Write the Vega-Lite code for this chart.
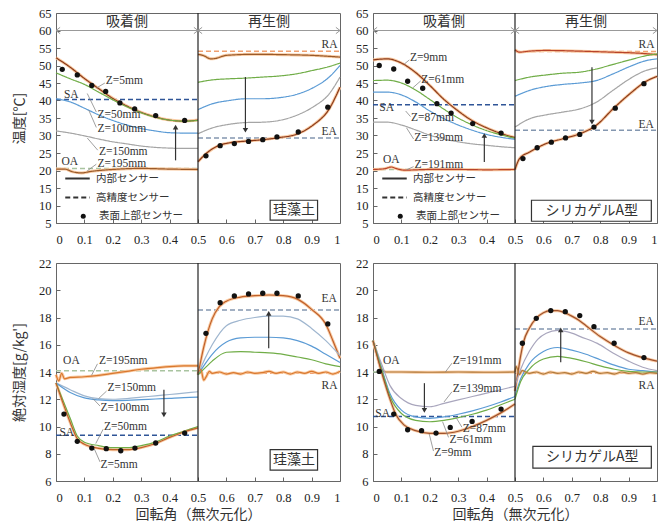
{
"$schema":"https://vega.github.io/schema/vega-lite/v6.json",
"padding":{"left":12,"top":6,"right":4,"bottom":4},
"background":"white",
"config":{"view":{"stroke":"#666","strokeWidth":1},"axis":{"labelFont":"Liberation Serif","labelFontSize":12.5,"labelColor":"#222","titleFont":"Noto Sans CJK JP","titleFontWeight":"normal","titleColor":"#333","titleFontSize":14,"grid":false,"domain":false,"tickColor":"#666","tickSize":-4},"axisX":{"labelPadding":14},"axisY":{"labelPadding":9}},
"resolve":{"scale":{"color":"independent","stroke":"independent","shape":"independent","strokeDash":"independent"},"legend":{"shape":"independent","strokeDash":"independent"}},
"columns":2,
"spacing":{"row":40,"column":33},
"bounds":"flush",
"datasets":{
"hd":[{"x":0,"x2":0.5,"y":60},{"x":0.5,"x2":1,"y":60}],
"ch":[{"x":0,"y":60,"d":"l"},{"x":0.5,"y":60,"d":"r"},{"x":0.5,"y":60,"d":"l"},{"x":1,"y":60,"d":"r"}],
"tl_l":[
{"s":"Z=5mm","h":"a","x":0,"y":52.2},{"s":"Z=5mm","h":"a","x":0.05,"y":49.5},{"s":"Z=5mm","h":"a","x":0.1,"y":46.3},{"s":"Z=5mm","h":"a","x":0.15,"y":43.4},{"s":"Z=5mm","h":"a","x":0.2,"y":40.6},{"s":"Z=5mm","h":"a","x":0.25,"y":38.4},{"s":"Z=5mm","h":"a","x":0.3,"y":36.6},{"s":"Z=5mm","h":"a","x":0.35,"y":35.3},{"s":"Z=5mm","h":"a","x":0.4,"y":34.4},{"s":"Z=5mm","h":"a","x":0.45,"y":34.1},{"s":"Z=5mm","h":"a","x":0.5,"y":34.4},
{"s":"Z=50mm","h":"a","x":0,"y":47.9},{"s":"Z=50mm","h":"a","x":0.05,"y":46.2},{"s":"Z=50mm","h":"a","x":0.1,"y":44.6},{"s":"Z=50mm","h":"a","x":0.15,"y":42.4},{"s":"Z=50mm","h":"a","x":0.2,"y":40.2},{"s":"Z=50mm","h":"a","x":0.25,"y":38.2},{"s":"Z=50mm","h":"a","x":0.3,"y":36.5},{"s":"Z=50mm","h":"a","x":0.35,"y":35.2},{"s":"Z=50mm","h":"a","x":0.4,"y":34.4},{"s":"Z=50mm","h":"a","x":0.45,"y":34.1},{"s":"Z=50mm","h":"a","x":0.5,"y":34.3},
{"s":"Z=100mm","h":"a","x":0,"y":40.5},{"s":"Z=100mm","h":"a","x":0.05,"y":39.6},{"s":"Z=100mm","h":"a","x":0.1,"y":37.8},{"s":"Z=100mm","h":"a","x":0.15,"y":35.9},{"s":"Z=100mm","h":"a","x":0.2,"y":34.3},{"s":"Z=100mm","h":"a","x":0.25,"y":33.0},{"s":"Z=100mm","h":"a","x":0.3,"y":32.0},{"s":"Z=100mm","h":"a","x":0.35,"y":31.3},{"s":"Z=100mm","h":"a","x":0.4,"y":30.8},{"s":"Z=100mm","h":"a","x":0.45,"y":30.7},{"s":"Z=100mm","h":"a","x":0.5,"y":30.7},
{"s":"Z=150mm","h":"a","x":0,"y":31.3},{"s":"Z=150mm","h":"a","x":0.05,"y":30.7},{"s":"Z=150mm","h":"a","x":0.1,"y":29.9},{"s":"Z=150mm","h":"a","x":0.15,"y":29.0},{"s":"Z=150mm","h":"a","x":0.2,"y":28.2},{"s":"Z=150mm","h":"a","x":0.25,"y":27.6},{"s":"Z=150mm","h":"a","x":0.3,"y":27.0},{"s":"Z=150mm","h":"a","x":0.35,"y":26.6},{"s":"Z=150mm","h":"a","x":0.4,"y":26.4},{"s":"Z=150mm","h":"a","x":0.45,"y":26.3},{"s":"Z=150mm","h":"a","x":0.5,"y":26.3},
{"s":"Z=195mm","h":"a","x":0,"y":20.4},{"s":"Z=195mm","h":"a","x":0.03,"y":20.4},{"s":"Z=195mm","h":"a","x":0.06,"y":19.6},{"s":"Z=195mm","h":"a","x":0.09,"y":19.3},{"s":"Z=195mm","h":"a","x":0.12,"y":19.7},{"s":"Z=195mm","h":"a","x":0.2,"y":20.3},{"s":"Z=195mm","h":"a","x":0.3,"y":20.6},{"s":"Z=195mm","h":"a","x":0.4,"y":20.4},{"s":"Z=195mm","h":"a","x":0.5,"y":20.3},
{"s":"Z=195mm","h":"r","x":0.5,"y":53.2},{"s":"Z=195mm","h":"r","x":0.52,"y":52.8},{"s":"Z=195mm","h":"r","x":0.545,"y":51.9},{"s":"Z=195mm","h":"r","x":0.56,"y":52.0},{"s":"Z=195mm","h":"r","x":0.6,"y":52.9},{"s":"Z=195mm","h":"r","x":0.7,"y":53.2},{"s":"Z=195mm","h":"r","x":0.8,"y":53.1},{"s":"Z=195mm","h":"r","x":0.9,"y":52.9},{"s":"Z=195mm","h":"r","x":1,"y":52.4},
{"s":"Z=50mm","h":"r","x":0.5,"y":45.2},{"s":"Z=50mm","h":"r","x":0.552,"y":45.9},{"s":"Z=50mm","h":"r","x":0.61,"y":46.2},{"s":"Z=50mm","h":"r","x":0.669,"y":46.4},{"s":"Z=50mm","h":"r","x":0.728,"y":46.7},{"s":"Z=50mm","h":"r","x":0.786,"y":47.0},{"s":"Z=50mm","h":"r","x":0.845,"y":47.6},{"s":"Z=50mm","h":"r","x":0.904,"y":48.6},{"s":"Z=50mm","h":"r","x":0.962,"y":49.7},{"s":"Z=50mm","h":"r","x":1,"y":50.7},
{"s":"Z=100mm","h":"r","x":0.5,"y":37.4},{"s":"Z=100mm","h":"r","x":0.552,"y":39.1},{"s":"Z=100mm","h":"r","x":0.61,"y":40.0},{"s":"Z=100mm","h":"r","x":0.669,"y":40.5},{"s":"Z=100mm","h":"r","x":0.728,"y":40.5},{"s":"Z=100mm","h":"r","x":0.786,"y":40.8},{"s":"Z=100mm","h":"r","x":0.845,"y":41.7},{"s":"Z=100mm","h":"r","x":0.904,"y":43.6},{"s":"Z=100mm","h":"r","x":0.962,"y":46.7},{"s":"Z=100mm","h":"r","x":1,"y":50.0},
{"s":"Z=150mm","h":"r","x":0.5,"y":30.5},{"s":"Z=150mm","h":"r","x":0.552,"y":32.2},{"s":"Z=150mm","h":"r","x":0.61,"y":33.2},{"s":"Z=150mm","h":"r","x":0.669,"y":33.7},{"s":"Z=150mm","h":"r","x":0.728,"y":33.8},{"s":"Z=150mm","h":"r","x":0.786,"y":34.3},{"s":"Z=150mm","h":"r","x":0.845,"y":35.7},{"s":"Z=150mm","h":"r","x":0.904,"y":38.1},{"s":"Z=150mm","h":"r","x":0.962,"y":41.9},{"s":"Z=150mm","h":"r","x":1,"y":46.7},
{"s":"Z=5mm","h":"r","x":0.5,"y":22.5},{"s":"Z=5mm","h":"r","x":0.528,"y":24.8},{"s":"Z=5mm","h":"r","x":0.575,"y":27.2},{"s":"Z=5mm","h":"r","x":0.61,"y":27.9},{"s":"Z=5mm","h":"r","x":0.669,"y":28.4},{"s":"Z=5mm","h":"r","x":0.728,"y":28.8},{"s":"Z=5mm","h":"r","x":0.786,"y":29.4},{"s":"Z=5mm","h":"r","x":0.845,"y":30.3},{"s":"Z=5mm","h":"r","x":0.904,"y":32.9},{"s":"Z=5mm","h":"r","x":0.962,"y":37.6},{"s":"Z=5mm","h":"r","x":1,"y":43.8}],
"tl_p":[{"x":0.022,"y":48.9},{"x":0.075,"y":47.3},{"x":0.126,"y":44.3},{"x":0.175,"y":42.6},{"x":0.225,"y":39.3},{"x":0.277,"y":37.6},{"x":0.351,"y":35.7},{"x":0.453,"y":34.3},{"x":0.528,"y":24.2},{"x":0.578,"y":27.1},{"x":0.628,"y":27.7},{"x":0.678,"y":28.3},{"x":0.728,"y":28.8},{"x":0.778,"y":29.6},{"x":0.853,"y":31.0},{"x":0.957,"y":38.1}],
"tl_ref":[{"r":"SA","x":0,"x2":0.5,"y":40.3},{"r":"OA","x":0,"x2":0.5,"y":20.6},{"r":"RA","x":0.5,"x2":1,"y":54.1},{"r":"EA","x":0.5,"x2":1,"y":29.3}],
"tl_t":[{"t":"Z=5mm","x":0.175,"y":45.7},{"t":"SA","x":0.028,"y":41.5},{"t":"Z=50mm","x":0.146,"y":36.0},{"t":"Z=100mm","x":0.146,"y":32.0},{"t":"Z=150mm","x":0.151,"y":25.3},{"t":"OA","x":0.019,"y":22.3},{"t":"Z=195mm","x":0.146,"y":22.0},{"t":"RA","x":0.935,"y":55.9},{"t":"EA","x":0.935,"y":31.0}],
"tl_c":[{"t":"吸着側","x":0.25,"y":62.4},{"t":"再生側","x":0.75,"y":62.4},{"t":"珪藻土","x":0.838,"y":8.6}],
"tl_bx":[{"x":0.754,"x2":0.921,"y":5.8,"y2":11.5}],
"tl_ar":[{"x":0.421,"y":32.4,"y2":22.9,"d":"u"},{"x":0.667,"y":31.5,"y2":46.7,"d":"d"}],
"tl_ld":[{"x":0.172,"y":45.0,"x2":0.143,"y2":43.6},{"x":0.142,"y":36.7,"x2":0.11,"y2":42.0},{"x":0.142,"y":32.3,"x2":0.115,"y2":37.3},{"x":0.147,"y":25.8,"x2":0.11,"y2":29.3},{"x":0.142,"y":21.8,"x2":0.11,"y2":19.9}],
"tr_l":[
{"s":"Z=9mm","h":"a","x":0,"y":51.6},{"s":"Z=9mm","h":"a","x":0.05,"y":51.9},{"s":"Z=9mm","h":"a","x":0.1,"y":50.7},{"s":"Z=9mm","h":"a","x":0.15,"y":48.0},{"s":"Z=9mm","h":"a","x":0.2,"y":44.3},{"s":"Z=9mm","h":"a","x":0.25,"y":40.3},{"s":"Z=9mm","h":"a","x":0.3,"y":37.0},{"s":"Z=9mm","h":"a","x":0.35,"y":34.2},{"s":"Z=9mm","h":"a","x":0.4,"y":32.2},{"s":"Z=9mm","h":"a","x":0.45,"y":30.6},{"s":"Z=9mm","h":"a","x":0.5,"y":29.4},
{"s":"Z=61mm","h":"a","x":0,"y":45.7},{"s":"Z=61mm","h":"a","x":0.05,"y":45.8},{"s":"Z=61mm","h":"a","x":0.1,"y":45.0},{"s":"Z=61mm","h":"a","x":0.15,"y":43.0},{"s":"Z=61mm","h":"a","x":0.2,"y":40.3},{"s":"Z=61mm","h":"a","x":0.25,"y":37.5},{"s":"Z=61mm","h":"a","x":0.3,"y":35.0},{"s":"Z=61mm","h":"a","x":0.35,"y":33.0},{"s":"Z=61mm","h":"a","x":0.4,"y":31.4},{"s":"Z=61mm","h":"a","x":0.45,"y":30.2},{"s":"Z=61mm","h":"a","x":0.5,"y":29.2},
{"s":"Z=87mm","h":"a","x":0,"y":42.4},{"s":"Z=87mm","h":"a","x":0.05,"y":42.4},{"s":"Z=87mm","h":"a","x":0.1,"y":41.6},{"s":"Z=87mm","h":"a","x":0.15,"y":39.6},{"s":"Z=87mm","h":"a","x":0.2,"y":37.0},{"s":"Z=87mm","h":"a","x":0.25,"y":34.8},{"s":"Z=87mm","h":"a","x":0.3,"y":33.0},{"s":"Z=87mm","h":"a","x":0.35,"y":31.5},{"s":"Z=87mm","h":"a","x":0.4,"y":30.3},{"s":"Z=87mm","h":"a","x":0.45,"y":29.5},{"s":"Z=87mm","h":"a","x":0.5,"y":28.9},
{"s":"Z=139mm","h":"a","x":0,"y":33.8},{"s":"Z=139mm","h":"a","x":0.05,"y":33.8},{"s":"Z=139mm","h":"a","x":0.1,"y":33.0},{"s":"Z=139mm","h":"a","x":0.15,"y":31.6},{"s":"Z=139mm","h":"a","x":0.2,"y":30.1},{"s":"Z=139mm","h":"a","x":0.25,"y":29.0},{"s":"Z=139mm","h":"a","x":0.3,"y":28.2},{"s":"Z=139mm","h":"a","x":0.35,"y":27.6},{"s":"Z=139mm","h":"a","x":0.4,"y":27.2},{"s":"Z=139mm","h":"a","x":0.45,"y":26.8},{"s":"Z=139mm","h":"a","x":0.5,"y":26.5},
{"s":"Z=191mm","h":"a","x":0,"y":20.3},{"s":"Z=191mm","h":"a","x":0.04,"y":20.5},{"s":"Z=191mm","h":"a","x":0.065,"y":21.0},{"s":"Z=191mm","h":"a","x":0.08,"y":20.6},{"s":"Z=191mm","h":"a","x":0.11,"y":20.1},{"s":"Z=191mm","h":"a","x":0.2,"y":20.3},{"s":"Z=191mm","h":"a","x":0.3,"y":20.3},{"s":"Z=191mm","h":"a","x":0.4,"y":20.2},{"s":"Z=191mm","h":"a","x":0.5,"y":20.3},
{"s":"Z=191mm","h":"r","x":0.5,"y":54.5},{"s":"Z=191mm","h":"r","x":0.515,"y":53.8},{"s":"Z=191mm","h":"r","x":0.55,"y":54.1},{"s":"Z=191mm","h":"r","x":0.61,"y":54.3},{"s":"Z=191mm","h":"r","x":0.728,"y":54.1},{"s":"Z=191mm","h":"r","x":0.845,"y":53.8},{"s":"Z=191mm","h":"r","x":0.94,"y":53.5},{"s":"Z=191mm","h":"r","x":1,"y":53.1},
{"s":"Z=61mm","h":"r","x":0.5,"y":45.7},{"s":"Z=61mm","h":"r","x":0.552,"y":46.7},{"s":"Z=61mm","h":"r","x":0.61,"y":47.3},{"s":"Z=61mm","h":"r","x":0.669,"y":47.8},{"s":"Z=61mm","h":"r","x":0.728,"y":48.1},{"s":"Z=61mm","h":"r","x":0.786,"y":49.0},{"s":"Z=61mm","h":"r","x":0.845,"y":50.3},{"s":"Z=61mm","h":"r","x":0.904,"y":51.6},{"s":"Z=61mm","h":"r","x":0.962,"y":52.8},{"s":"Z=61mm","h":"r","x":1,"y":53.3},
{"s":"Z=87mm","h":"r","x":0.5,"y":41.2},{"s":"Z=87mm","h":"r","x":0.552,"y":42.9},{"s":"Z=87mm","h":"r","x":0.61,"y":44.0},{"s":"Z=87mm","h":"r","x":0.669,"y":44.6},{"s":"Z=87mm","h":"r","x":0.728,"y":45.0},{"s":"Z=87mm","h":"r","x":0.786,"y":45.7},{"s":"Z=87mm","h":"r","x":0.845,"y":47.6},{"s":"Z=87mm","h":"r","x":0.904,"y":49.7},{"s":"Z=87mm","h":"r","x":0.962,"y":51.4},{"s":"Z=87mm","h":"r","x":1,"y":51.9},
{"s":"Z=139mm","h":"r","x":0.5,"y":32.4},{"s":"Z=139mm","h":"r","x":0.552,"y":34.8},{"s":"Z=139mm","h":"r","x":0.61,"y":35.9},{"s":"Z=139mm","h":"r","x":0.669,"y":36.7},{"s":"Z=139mm","h":"r","x":0.728,"y":37.6},{"s":"Z=139mm","h":"r","x":0.786,"y":39.5},{"s":"Z=139mm","h":"r","x":0.845,"y":42.9},{"s":"Z=139mm","h":"r","x":0.904,"y":46.2},{"s":"Z=139mm","h":"r","x":0.962,"y":48.6},{"s":"Z=139mm","h":"r","x":1,"y":49.3},
{"s":"Z=9mm","h":"r","x":0.5,"y":20.3},{"s":"Z=9mm","h":"r","x":0.516,"y":23.4},{"s":"Z=9mm","h":"r","x":0.552,"y":25.3},{"s":"Z=9mm","h":"r","x":0.61,"y":27.7},{"s":"Z=9mm","h":"r","x":0.669,"y":29.1},{"s":"Z=9mm","h":"r","x":0.728,"y":30.5},{"s":"Z=9mm","h":"r","x":0.786,"y":32.9},{"s":"Z=9mm","h":"r","x":0.845,"y":37.6},{"s":"Z=9mm","h":"r","x":0.904,"y":41.9},{"s":"Z=9mm","h":"r","x":0.962,"y":45.5},{"s":"Z=9mm","h":"r","x":1,"y":46.9}],
"tr_p":[{"x":0.022,"y":50.0},{"x":0.073,"y":49.0},{"x":0.122,"y":45.5},{"x":0.175,"y":43.5},{"x":0.225,"y":39.1},{"x":0.275,"y":36.4},{"x":0.351,"y":33.4},{"x":0.451,"y":30.7},{"x":0.528,"y":23.4},{"x":0.578,"y":26.5},{"x":0.628,"y":28.1},{"x":0.678,"y":29.3},{"x":0.728,"y":30.3},{"x":0.778,"y":32.4},{"x":0.853,"y":37.8},{"x":0.954,"y":44.8}],
"tr_ref":[{"r":"SA","x":0,"x2":0.5,"y":38.8},{"r":"OA","x":0,"x2":0.5,"y":20.3},{"r":"RA","x":0.5,"x2":1,"y":54.0},{"r":"EA","x":0.5,"x2":1,"y":31.5}],
"tr_t":[{"t":"Z=9mm","x":0.13,"y":52.2},{"t":"Z=61mm","x":0.17,"y":46.0},{"t":"SA","x":0.022,"y":37.8},{"t":"Z=87mm","x":0.134,"y":35.1},{"t":"Z=139mm","x":0.145,"y":29.3},{"t":"OA","x":0.035,"y":22.9},{"t":"Z=191mm","x":0.146,"y":21.5},{"t":"RA","x":0.935,"y":55.9},{"t":"EA","x":0.935,"y":32.9}],
"tr_c":[{"t":"吸着側","x":0.25,"y":62.4},{"t":"再生側","x":0.75,"y":62.4},{"t":"シリカゲルA型","x":0.77,"y":8.5}],
"tr_bx":[{"x":0.558,"x2":0.98,"y":5.5,"y2":11.5}],
"tr_ar":[{"x":0.392,"y":30.0,"y2":22.4,"d":"u"},{"x":0.771,"y":33.8,"y2":49.5,"d":"d"}],
"tr_ld":[{"x":0.128,"y":51.6,"x2":0.11,"y2":50.4},{"x":0.168,"y":45.6,"x2":0.14,"y2":43.6},{"x":0.132,"y":35.4,"x2":0.115,"y2":37.0},{"x":0.143,"y":29.0,"x2":0.118,"y2":32.2},{"x":0.143,"y":21.1,"x2":0.118,"y2":20.2}],
"bl_l":[
{"s":"Z=195mm","h":"a","x":0,"y":13.8},{"s":"Z=195mm","h":"a","x":0.01,"y":13.35},{"s":"Z=195mm","h":"a","x":0.02,"y":13.9},{"s":"Z=195mm","h":"a","x":0.03,"y":13.5},{"s":"Z=195mm","h":"a","x":0.05,"y":13.6},{"s":"Z=195mm","h":"a","x":0.1,"y":13.65},{"s":"Z=195mm","h":"a","x":0.15,"y":13.75},{"s":"Z=195mm","h":"a","x":0.2,"y":13.9},{"s":"Z=195mm","h":"a","x":0.25,"y":14.05},{"s":"Z=195mm","h":"a","x":0.3,"y":14.2},{"s":"Z=195mm","h":"a","x":0.35,"y":14.3},{"s":"Z=195mm","h":"a","x":0.4,"y":14.4},{"s":"Z=195mm","h":"a","x":0.45,"y":14.45},{"s":"Z=195mm","h":"a","x":0.5,"y":14.45},
{"s":"Z=150mm","h":"a","x":0,"y":13.2},{"s":"Z=150mm","h":"a","x":0.05,"y":12.7},{"s":"Z=150mm","h":"a","x":0.1,"y":12.25},{"s":"Z=150mm","h":"a","x":0.15,"y":12.05},{"s":"Z=150mm","h":"a","x":0.2,"y":12.0},{"s":"Z=150mm","h":"a","x":0.25,"y":12.05},{"s":"Z=150mm","h":"a","x":0.3,"y":12.15},{"s":"Z=150mm","h":"a","x":0.35,"y":12.25},{"s":"Z=150mm","h":"a","x":0.4,"y":12.35},{"s":"Z=150mm","h":"a","x":0.45,"y":12.45},{"s":"Z=150mm","h":"a","x":0.5,"y":12.55},
{"s":"Z=100mm","h":"a","x":0,"y":13.2},{"s":"Z=100mm","h":"a","x":0.05,"y":12.5},{"s":"Z=100mm","h":"a","x":0.1,"y":12.1},{"s":"Z=100mm","h":"a","x":0.15,"y":11.95},{"s":"Z=100mm","h":"a","x":0.2,"y":11.9},{"s":"Z=100mm","h":"a","x":0.25,"y":11.92},{"s":"Z=100mm","h":"a","x":0.3,"y":11.97},{"s":"Z=100mm","h":"a","x":0.35,"y":12.02},{"s":"Z=100mm","h":"a","x":0.4,"y":12.07},{"s":"Z=100mm","h":"a","x":0.45,"y":12.12},{"s":"Z=100mm","h":"a","x":0.5,"y":12.15},
{"s":"Z=50mm","h":"a","x":0,"y":13.2},{"s":"Z=50mm","h":"a","x":0.025,"y":11.9},{"s":"Z=50mm","h":"a","x":0.05,"y":10.6},{"s":"Z=50mm","h":"a","x":0.075,"y":9.3},{"s":"Z=50mm","h":"a","x":0.1,"y":8.85},{"s":"Z=50mm","h":"a","x":0.15,"y":8.6},{"s":"Z=50mm","h":"a","x":0.2,"y":8.45},{"s":"Z=50mm","h":"a","x":0.25,"y":8.45},{"s":"Z=50mm","h":"a","x":0.3,"y":8.6},{"s":"Z=50mm","h":"a","x":0.35,"y":8.85},{"s":"Z=50mm","h":"a","x":0.4,"y":9.3},{"s":"Z=50mm","h":"a","x":0.45,"y":9.65},{"s":"Z=50mm","h":"a","x":0.5,"y":10.0},
{"s":"Z=5mm","h":"a","x":0,"y":13.2},{"s":"Z=5mm","h":"a","x":0.025,"y":11.7},{"s":"Z=5mm","h":"a","x":0.05,"y":10.3},{"s":"Z=5mm","h":"a","x":0.075,"y":9.1},{"s":"Z=5mm","h":"a","x":0.1,"y":8.7},{"s":"Z=5mm","h":"a","x":0.15,"y":8.4},{"s":"Z=5mm","h":"a","x":0.2,"y":8.3},{"s":"Z=5mm","h":"a","x":0.25,"y":8.3},{"s":"Z=5mm","h":"a","x":0.3,"y":8.45},{"s":"Z=5mm","h":"a","x":0.35,"y":8.75},{"s":"Z=5mm","h":"a","x":0.4,"y":9.2},{"s":"Z=5mm","h":"a","x":0.45,"y":9.6},{"s":"Z=5mm","h":"a","x":0.5,"y":9.9},
{"s":"Z=5mm","h":"r","x":0.5,"y":13.8},{"s":"Z=5mm","h":"r","x":0.52,"y":15.8},{"s":"Z=5mm","h":"r","x":0.55,"y":17.9},{"s":"Z=5mm","h":"r","x":0.575,"y":18.8},{"s":"Z=5mm","h":"r","x":0.6,"y":19.2},{"s":"Z=5mm","h":"r","x":0.65,"y":19.5},{"s":"Z=5mm","h":"r","x":0.7,"y":19.6},{"s":"Z=5mm","h":"r","x":0.75,"y":19.65},{"s":"Z=5mm","h":"r","x":0.8,"y":19.6},{"s":"Z=5mm","h":"r","x":0.85,"y":19.35},{"s":"Z=5mm","h":"r","x":0.9,"y":18.6},{"s":"Z=5mm","h":"r","x":0.95,"y":17.5},{"s":"Z=5mm","h":"r","x":0.975,"y":16.3},{"s":"Z=5mm","h":"r","x":1,"y":15.0},
{"s":"Z=150mm","h":"r","x":0.5,"y":13.8},{"s":"Z=150mm","h":"r","x":0.525,"y":15.0},{"s":"Z=150mm","h":"r","x":0.55,"y":16.0},{"s":"Z=150mm","h":"r","x":0.6,"y":17.4},{"s":"Z=150mm","h":"r","x":0.65,"y":17.8},{"s":"Z=150mm","h":"r","x":0.7,"y":18.0},{"s":"Z=150mm","h":"r","x":0.75,"y":18.1},{"s":"Z=150mm","h":"r","x":0.8,"y":18.1},{"s":"Z=150mm","h":"r","x":0.85,"y":17.9},{"s":"Z=150mm","h":"r","x":0.9,"y":17.2},{"s":"Z=150mm","h":"r","x":0.95,"y":16.3},{"s":"Z=150mm","h":"r","x":1,"y":15.2},
{"s":"Z=100mm","h":"r","x":0.5,"y":13.8},{"s":"Z=100mm","h":"r","x":0.525,"y":14.6},{"s":"Z=100mm","h":"r","x":0.55,"y":15.3},{"s":"Z=100mm","h":"r","x":0.6,"y":16.2},{"s":"Z=100mm","h":"r","x":0.65,"y":16.5},{"s":"Z=100mm","h":"r","x":0.7,"y":16.55},{"s":"Z=100mm","h":"r","x":0.75,"y":16.55},{"s":"Z=100mm","h":"r","x":0.8,"y":16.5},{"s":"Z=100mm","h":"r","x":0.85,"y":16.3},{"s":"Z=100mm","h":"r","x":0.9,"y":15.9},{"s":"Z=100mm","h":"r","x":0.95,"y":15.3},{"s":"Z=100mm","h":"r","x":1,"y":14.7},
{"s":"Z=50mm","h":"r","x":0.5,"y":13.8},{"s":"Z=50mm","h":"r","x":0.525,"y":14.3},{"s":"Z=50mm","h":"r","x":0.55,"y":14.8},{"s":"Z=50mm","h":"r","x":0.6,"y":15.45},{"s":"Z=50mm","h":"r","x":0.65,"y":15.5},{"s":"Z=50mm","h":"r","x":0.7,"y":15.45},{"s":"Z=50mm","h":"r","x":0.75,"y":15.4},{"s":"Z=50mm","h":"r","x":0.8,"y":15.3},{"s":"Z=50mm","h":"r","x":0.85,"y":15.1},{"s":"Z=50mm","h":"r","x":0.9,"y":14.9},{"s":"Z=50mm","h":"r","x":0.95,"y":14.6},{"s":"Z=50mm","h":"r","x":1,"y":14.4},
{"s":"Z=195mm","h":"r","x":0.5,"y":13.9},{"s":"Z=195mm","h":"r","x":0.51,"y":14.2},{"s":"Z=195mm","h":"r","x":0.52,"y":13.4},{"s":"Z=195mm","h":"r","x":0.53,"y":13.7},{"s":"Z=195mm","h":"r","x":0.54,"y":14.05},{"s":"Z=195mm","h":"r","x":0.55,"y":13.9},{"s":"Z=195mm","h":"r","x":0.575,"y":14.0},{"s":"Z=195mm","h":"r","x":0.6,"y":13.85},{"s":"Z=195mm","h":"r","x":0.625,"y":13.95},{"s":"Z=195mm","h":"r","x":0.65,"y":13.85},{"s":"Z=195mm","h":"r","x":0.675,"y":14.0},{"s":"Z=195mm","h":"r","x":0.7,"y":13.9},{"s":"Z=195mm","h":"r","x":0.725,"y":13.95},{"s":"Z=195mm","h":"r","x":0.75,"y":14.05},{"s":"Z=195mm","h":"r","x":0.775,"y":13.9},{"s":"Z=195mm","h":"r","x":0.8,"y":14.0},{"s":"Z=195mm","h":"r","x":0.825,"y":13.85},{"s":"Z=195mm","h":"r","x":0.85,"y":14.0},{"s":"Z=195mm","h":"r","x":0.875,"y":13.9},{"s":"Z=195mm","h":"r","x":0.9,"y":14.05},{"s":"Z=195mm","h":"r","x":0.925,"y":13.9},{"s":"Z=195mm","h":"r","x":0.95,"y":14.0},{"s":"Z=195mm","h":"r","x":0.975,"y":13.85},{"s":"Z=195mm","h":"r","x":1,"y":14.05}],
"bl_p":[{"x":0.028,"y":10.91},{"x":0.075,"y":8.91},{"x":0.126,"y":8.42},{"x":0.177,"y":8.37},{"x":0.228,"y":8.22},{"x":0.278,"y":8.42},{"x":0.351,"y":8.79},{"x":0.453,"y":9.52},{"x":0.528,"y":16.84},{"x":0.578,"y":19.09},{"x":0.628,"y":19.58},{"x":0.678,"y":19.73},{"x":0.728,"y":19.78},{"x":0.778,"y":19.78},{"x":0.853,"y":19.58},{"x":0.957,"y":17.53}],
"bl_ref":[{"r":"SA","x":0,"x2":0.5,"y":9.35},{"r":"OA","x":0,"x2":0.5,"y":14.09},{"r":"RA","x":0.5,"x2":1,"y":13.9},{"r":"EA","x":0.5,"x2":1,"y":18.55}],
"bl_t":[{"t":"OA","x":0.025,"y":14.8},{"t":"Z=195mm","x":0.151,"y":14.82},{"t":"Z=150mm","x":0.181,"y":12.8},{"t":"Z=100mm","x":0.157,"y":11.35},{"t":"Z=50mm","x":0.169,"y":9.96},{"t":"SA","x":0.012,"y":9.5},{"t":"Z=5mm","x":0.157,"y":7.2},{"t":"EA","x":0.935,"y":19.35},{"t":"RA","x":0.935,"y":13.0}],
"bl_c":[{"t":"珪藻土","x":0.838,"y":7.55}],
"bl_bx":[{"x":0.754,"x2":0.921,"y":6.8,"y2":8.3}],
"bl_ar":[{"x":0.38,"y":10.86,"y2":12.7,"d":"d"},{"x":0.749,"y":18.3,"y2":15.75,"d":"u"}],
"bl_ld":[{"x":0.146,"y":14.6,"x2":0.125,"y2":13.75},{"x":0.178,"y":12.6,"x2":0.15,"y2":12.05},{"x":0.155,"y":11.5,"x2":0.13,"y2":12.05},{"x":0.166,"y":9.8,"x2":0.14,"y2":8.75},{"x":0.155,"y":7.4,"x2":0.135,"y2":8.35}],
"br_l":[
{"s":"Z=191mm","h":"a","x":0,"y":16.3},{"s":"Z=191mm","h":"a","x":0.015,"y":15.2},{"s":"Z=191mm","h":"a","x":0.03,"y":14.2},{"s":"Z=191mm","h":"a","x":0.045,"y":14.0},{"s":"Z=191mm","h":"a","x":0.1,"y":14.0},{"s":"Z=191mm","h":"a","x":0.2,"y":13.98},{"s":"Z=191mm","h":"a","x":0.3,"y":14.0},{"s":"Z=191mm","h":"a","x":0.4,"y":13.98},{"s":"Z=191mm","h":"a","x":0.5,"y":14.0},
{"s":"Z=139mm","h":"a","x":0,"y":16.3},{"s":"Z=139mm","h":"a","x":0.03,"y":14.6},{"s":"Z=139mm","h":"a","x":0.06,"y":13.0},{"s":"Z=139mm","h":"a","x":0.1,"y":12.05},{"s":"Z=139mm","h":"a","x":0.15,"y":11.55},{"s":"Z=139mm","h":"a","x":0.2,"y":11.45},{"s":"Z=139mm","h":"a","x":0.25,"y":11.7},{"s":"Z=139mm","h":"a","x":0.3,"y":11.95},{"s":"Z=139mm","h":"a","x":0.35,"y":12.2},{"s":"Z=139mm","h":"a","x":0.4,"y":12.45},{"s":"Z=139mm","h":"a","x":0.45,"y":12.7},{"s":"Z=139mm","h":"a","x":0.5,"y":12.95},
{"s":"Z=87mm","h":"a","x":0,"y":16.3},{"s":"Z=87mm","h":"a","x":0.03,"y":14.3},{"s":"Z=87mm","h":"a","x":0.06,"y":12.4},{"s":"Z=87mm","h":"a","x":0.1,"y":11.2},{"s":"Z=87mm","h":"a","x":0.15,"y":10.7},{"s":"Z=87mm","h":"a","x":0.2,"y":10.6},{"s":"Z=87mm","h":"a","x":0.25,"y":10.7},{"s":"Z=87mm","h":"a","x":0.3,"y":10.9},{"s":"Z=87mm","h":"a","x":0.35,"y":11.15},{"s":"Z=87mm","h":"a","x":0.4,"y":11.45},{"s":"Z=87mm","h":"a","x":0.45,"y":11.8},{"s":"Z=87mm","h":"a","x":0.5,"y":12.2},
{"s":"Z=61mm","h":"a","x":0,"y":16.3},{"s":"Z=61mm","h":"a","x":0.03,"y":14.2},{"s":"Z=61mm","h":"a","x":0.06,"y":12.2},{"s":"Z=61mm","h":"a","x":0.1,"y":10.95},{"s":"Z=61mm","h":"a","x":0.15,"y":10.45},{"s":"Z=61mm","h":"a","x":0.2,"y":10.35},{"s":"Z=61mm","h":"a","x":0.25,"y":10.45},{"s":"Z=61mm","h":"a","x":0.3,"y":10.65},{"s":"Z=61mm","h":"a","x":0.35,"y":10.9},{"s":"Z=61mm","h":"a","x":0.4,"y":11.2},{"s":"Z=61mm","h":"a","x":0.45,"y":11.6},{"s":"Z=61mm","h":"a","x":0.5,"y":12.0},
{"s":"Z=9mm","h":"a","x":0,"y":16.3},{"s":"Z=9mm","h":"a","x":0.03,"y":14.0},{"s":"Z=9mm","h":"a","x":0.06,"y":12.0},{"s":"Z=9mm","h":"a","x":0.08,"y":10.9},{"s":"Z=9mm","h":"a","x":0.11,"y":10.1},{"s":"Z=9mm","h":"a","x":0.15,"y":9.7},{"s":"Z=9mm","h":"a","x":0.2,"y":9.5},{"s":"Z=9mm","h":"a","x":0.25,"y":9.5},{"s":"Z=9mm","h":"a","x":0.3,"y":9.65},{"s":"Z=9mm","h":"a","x":0.35,"y":10.0},{"s":"Z=9mm","h":"a","x":0.4,"y":10.45},{"s":"Z=9mm","h":"a","x":0.45,"y":11.0},{"s":"Z=9mm","h":"a","x":0.5,"y":11.65},
{"s":"Z=9mm","h":"r","x":0.5,"y":12.6},{"s":"Z=9mm","h":"r","x":0.51,"y":13.9},{"s":"Z=9mm","h":"r","x":0.52,"y":15.2},{"s":"Z=9mm","h":"r","x":0.53,"y":16.2},{"s":"Z=9mm","h":"r","x":0.55,"y":17.2},{"s":"Z=9mm","h":"r","x":0.575,"y":17.95},{"s":"Z=9mm","h":"r","x":0.6,"y":18.35},{"s":"Z=9mm","h":"r","x":0.625,"y":18.5},{"s":"Z=9mm","h":"r","x":0.65,"y":18.5},{"s":"Z=9mm","h":"r","x":0.675,"y":18.35},{"s":"Z=9mm","h":"r","x":0.7,"y":18.1},{"s":"Z=9mm","h":"r","x":0.725,"y":17.8},{"s":"Z=9mm","h":"r","x":0.75,"y":17.4},{"s":"Z=9mm","h":"r","x":0.8,"y":16.6},{"s":"Z=9mm","h":"r","x":0.85,"y":15.95},{"s":"Z=9mm","h":"r","x":0.9,"y":15.4},{"s":"Z=9mm","h":"r","x":0.95,"y":15.05},{"s":"Z=9mm","h":"r","x":1,"y":14.8},
{"s":"Z=139mm","h":"r","x":0.5,"y":12.95},{"s":"Z=139mm","h":"r","x":0.52,"y":14.2},{"s":"Z=139mm","h":"r","x":0.55,"y":15.5},{"s":"Z=139mm","h":"r","x":0.58,"y":16.4},{"s":"Z=139mm","h":"r","x":0.61,"y":16.85},{"s":"Z=139mm","h":"r","x":0.65,"y":17.05},{"s":"Z=139mm","h":"r","x":0.7,"y":16.85},{"s":"Z=139mm","h":"r","x":0.73,"y":16.6},{"s":"Z=139mm","h":"r","x":0.79,"y":16.1},{"s":"Z=139mm","h":"r","x":0.845,"y":15.4},{"s":"Z=139mm","h":"r","x":0.9,"y":14.8},{"s":"Z=139mm","h":"r","x":0.95,"y":14.35},{"s":"Z=139mm","h":"r","x":1,"y":14.1},
{"s":"Z=87mm","h":"r","x":0.5,"y":12.2},{"s":"Z=87mm","h":"r","x":0.52,"y":13.5},{"s":"Z=87mm","h":"r","x":0.55,"y":14.6},{"s":"Z=87mm","h":"r","x":0.6,"y":15.5},{"s":"Z=87mm","h":"r","x":0.65,"y":15.8},{"s":"Z=87mm","h":"r","x":0.7,"y":15.6},{"s":"Z=87mm","h":"r","x":0.75,"y":15.3},{"s":"Z=87mm","h":"r","x":0.8,"y":14.9},{"s":"Z=87mm","h":"r","x":0.85,"y":14.5},{"s":"Z=87mm","h":"r","x":0.9,"y":14.2},{"s":"Z=87mm","h":"r","x":0.95,"y":14.1},{"s":"Z=87mm","h":"r","x":1,"y":14.0},
{"s":"Z=61mm","h":"r","x":0.5,"y":12.0},{"s":"Z=61mm","h":"r","x":0.52,"y":13.3},{"s":"Z=61mm","h":"r","x":0.55,"y":14.2},{"s":"Z=61mm","h":"r","x":0.6,"y":14.95},{"s":"Z=61mm","h":"r","x":0.65,"y":15.15},{"s":"Z=61mm","h":"r","x":0.7,"y":15.0},{"s":"Z=61mm","h":"r","x":0.75,"y":14.75},{"s":"Z=61mm","h":"r","x":0.8,"y":14.45},{"s":"Z=61mm","h":"r","x":0.85,"y":14.2},{"s":"Z=61mm","h":"r","x":0.9,"y":14.05},{"s":"Z=61mm","h":"r","x":0.95,"y":14.0},{"s":"Z=61mm","h":"r","x":1,"y":14.0},
{"s":"Z=191mm","h":"r","x":0.5,"y":14.0},{"s":"Z=191mm","h":"r","x":0.505,"y":14.4},{"s":"Z=191mm","h":"r","x":0.515,"y":13.8},{"s":"Z=191mm","h":"r","x":0.525,"y":14.1},{"s":"Z=191mm","h":"r","x":0.55,"y":13.9},{"s":"Z=191mm","h":"r","x":0.575,"y":14.0},{"s":"Z=191mm","h":"r","x":0.6,"y":13.85},{"s":"Z=191mm","h":"r","x":0.625,"y":14.0},{"s":"Z=191mm","h":"r","x":0.65,"y":13.9},{"s":"Z=191mm","h":"r","x":0.675,"y":13.95},{"s":"Z=191mm","h":"r","x":0.7,"y":13.85},{"s":"Z=191mm","h":"r","x":0.725,"y":14.0},{"s":"Z=191mm","h":"r","x":0.75,"y":13.9},{"s":"Z=191mm","h":"r","x":0.775,"y":14.05},{"s":"Z=191mm","h":"r","x":0.8,"y":13.9},{"s":"Z=191mm","h":"r","x":0.825,"y":13.95},{"s":"Z=191mm","h":"r","x":0.85,"y":13.85},{"s":"Z=191mm","h":"r","x":0.875,"y":14.0},{"s":"Z=191mm","h":"r","x":0.9,"y":13.9},{"s":"Z=191mm","h":"r","x":0.925,"y":13.95},{"s":"Z=191mm","h":"r","x":0.95,"y":13.85},{"s":"Z=191mm","h":"r","x":0.975,"y":13.95},{"s":"Z=191mm","h":"r","x":1,"y":13.9}],
"br_p":[{"x":0.022,"y":14.04},{"x":0.073,"y":10.91},{"x":0.122,"y":9.76},{"x":0.171,"y":9.69},{"x":0.222,"y":9.52},{"x":0.272,"y":9.93},{"x":0.349,"y":10.37},{"x":0.451,"y":11.28},{"x":0.526,"y":16.11},{"x":0.575,"y":17.94},{"x":0.626,"y":18.51},{"x":0.677,"y":18.43},{"x":0.728,"y":18.14},{"x":0.778,"y":17.33},{"x":0.849,"y":16.11},{"x":0.954,"y":15.06}],
"br_ref":[{"r":"SA","x":0,"x2":0.5,"y":10.74},{"r":"OA","x":0,"x2":0.5,"y":14.0},{"r":"RA","x":0.5,"x2":1,"y":13.9},{"r":"EA","x":0.5,"x2":1,"y":17.16}],
"br_t":[{"t":"OA","x":0.035,"y":14.8},{"t":"Z=191mm","x":0.281,"y":14.82},{"t":"Z=139mm","x":0.281,"y":12.74},{"t":"SA","x":0.008,"y":10.93},{"t":"Z=87mm","x":0.316,"y":9.8},{"t":"Z=61mm","x":0.269,"y":9.03},{"t":"Z=9mm","x":0.216,"y":8.05},{"t":"EA","x":0.935,"y":17.7},{"t":"RA","x":0.935,"y":13.0}],
"br_c":[{"t":"シリカゲルA型","x":0.772,"y":7.75}],
"br_bx":[{"x":0.563,"x2":0.98,"y":6.95,"y2":8.54}],
"br_ar":[{"x":0.181,"y":11.18,"y2":13.18,"d":"d"},{"x":0.661,"y":17.09,"y2":14.72,"d":"u"}],
"br_ld":[{"x":0.278,"y":14.65,"x2":0.255,"y2":14.0},{"x":0.278,"y":12.55,"x2":0.25,"y2":11.8},{"x":0.313,"y":9.95,"x2":0.29,"y2":10.75},{"x":0.266,"y":9.2,"x2":0.245,"y2":10.35},{"x":0.213,"y":8.2,"x2":0.198,"y2":9.45}]
},
"concat":[
{"width":284,"height":210,
 "encoding":{"x":{"field":"x","type":"quantitative","scale":{"domain":[0,1],"nice":false,"zero":false},"axis":{"values":[0,0.1,0.2,0.3,0.4,0.5,0.6,0.7,0.8,0.9,1],"labelExpr":"datum.value == 0 ? '0' : datum.value == 1 ? '1' : format(datum.value, '.1f')","title":null}},
  "y":{"field":"y","type":"quantitative","scale":{"domain":[5,65],"nice":false,"zero":false},"axis":{"values":[5,10,15,20,25,30,35,40,45,50,55,60,65],"title":"温度[℃]","titlePadding":12}}},
 "resolve":{"scale":{"shape":"independent"},"legend":{"shape":"independent"}},
 "layer":[
  {"data":{"name":"tl_ref"},"mark":{"type":"rule","strokeWidth":1.5},"encoding":{"x2":{"field":"x2"},"stroke":{"field":"r","type":"nominal","scale":{"domain":["SA","OA","RA","EA"],"range":["#2f5597","#a9c4a0","#f0a070","#8497b0"]},"legend":null},"strokeDash":{"datum":"高精度センサー","type":"nominal","scale":{"domain":["内部センサー","高精度センサー"],"range":[[1,0],[5,3]]},"legend":{"title":null,"orient":"none","legendX":8,"legendY":152,"padding":0,"rowPadding":0,"symbolSize":600,"symbolType":"stroke","symbolStrokeColor":"#333","symbolStrokeWidth":1.8,"labelFont":"Noto Sans CJK JP","labelFontSize":10.5,"labelColor":"#333","labelOffset":5}}}},
  {"data":{"name":"tl_l"},"transform":[{"filter":{"field":"s","oneOf":["Z=5mm","Z=9mm","Z=195mm","Z=191mm"]}}],"mark":{"type":"line","interpolate":"monotone","color":"#f9cba3","strokeWidth":3},"encoding":{"detail":[{"field":"s"},{"field":"h"}]}},
  {"data":{"name":"tl_l"},"mark":{"type":"line","interpolate":"monotone","strokeWidth":1.2},"encoding":{"color":{"field":"s","type":"nominal","scale":{"domain":["Z=5mm","Z=9mm","Z=50mm","Z=61mm","Z=100mm","Z=87mm","Z=150mm","Z=139mm","Z=195mm","Z=191mm"],"range":["#8b3a1a","#8b3a1a","#70ad47","#70ad47","#5b9bd5","#5b9bd5","#a5a5a5","#a5a5a5","#9a5a2a","#9a5a2a"]},"legend":null},"detail":{"field":"h"},"strokeDash":{"datum":"内部センサー","type":"nominal","scale":{"domain":["内部センサー","高精度センサー"],"range":[[1,0],[5,3]]},"legend":{"title":null,"orient":"none","legendX":8,"legendY":152,"padding":0,"rowPadding":0,"symbolSize":600,"symbolType":"stroke","symbolStrokeColor":"#333","symbolStrokeWidth":1.8,"labelFont":"Noto Sans CJK JP","labelFontSize":10.5,"labelColor":"#333","labelOffset":5}}}},
  {"data":{"values":[{"x":0.5,"y":5,"y2":65}]},"mark":{"type":"rule","color":"#222","strokeWidth":1.2},"encoding":{"y2":{"field":"y2"}}},
  {"data":{"name":"hd"},"mark":{"type":"rule","color":"#999","strokeWidth":1},"encoding":{"x2":{"field":"x2"}}},
  {"data":{"name":"ch"},"mark":{"type":"point","filled":false,"color":"#999","strokeWidth":1,"size":40,"opacity":1},"encoding":{"shape":{"field":"d","type":"nominal","scale":{"domain":["l","r"],"range":["M1.3,-1L0,0L1.3,1","M-1.3,-1L0,0L-1.3,1"]},"legend":null}}},
  {"data":{"name":"tl_ld"},"mark":{"type":"rule","color":"#888","strokeWidth":0.8},"encoding":{"x2":{"field":"x2"},"y2":{"field":"y2"}}},
  {"data":{"name":"tl_t"},"mark":{"type":"text","align":"left","baseline":"middle","font":"Liberation Serif","fontSize":11.5,"color":"#333"},"encoding":{"text":{"field":"t"}}},
  {"data":{"name":"tl_ar"},"mark":{"type":"rule","color":"#333","strokeWidth":1.2},"encoding":{"y2":{"field":"y2"}}},
  {"data":{"name":"tl_ar"},"mark":{"type":"point","filled":true,"color":"#333","size":30,"opacity":1},"encoding":{"shape":{"field":"d","type":"nominal","scale":{"domain":["u","d"],"range":["triangle-up","triangle-down"]},"legend":null}}},
  {"data":{"name":"tl_bx"},"mark":{"type":"rect","fill":"white","stroke":"#333","strokeWidth":1.2},"encoding":{"x2":{"field":"x2"},"y2":{"field":"y2"}}},
  {"data":{"name":"tl_c"},"mark":{"type":"text","align":"center","baseline":"middle","font":"Noto Sans CJK JP","fontSize":14,"color":"#333"},"encoding":{"text":{"field":"t"}}},
  {"data":{"name":"tl_p"},"mark":{"type":"point","filled":true,"color":"#111","size":28,"opacity":1},"encoding":{"shape":{"datum":"表面上部センサー","type":"nominal","scale":{"domain":["表面上部センサー"],"range":["circle"]},"legend":{"title":null,"orient":"none","legendX":22,"legendY":198,"padding":0,"symbolSize":25,"symbolFillColor":"#222","labelFont":"Noto Sans CJK JP","labelFontSize":10.5,"labelColor":"#333","labelOffset":10.5}}}}
 ]},
{"width":284,"height":210,
 "encoding":{"x":{"field":"x","type":"quantitative","scale":{"domain":[0,1],"nice":false,"zero":false},"axis":{"values":[0,0.1,0.2,0.3,0.4,0.5,0.6,0.7,0.8,0.9,1],"labelExpr":"datum.value == 0 ? '0' : datum.value == 1 ? '1' : format(datum.value, '.1f')","title":null}},
  "y":{"field":"y","type":"quantitative","scale":{"domain":[5,65],"nice":false,"zero":false},"axis":{"values":[5,10,15,20,25,30,35,40,45,50,55,60,65],"title":null}}},
 "resolve":{"scale":{"shape":"independent"},"legend":{"shape":"independent"}},
 "layer":[
  {"data":{"name":"tr_ref"},"mark":{"type":"rule","strokeWidth":1.5},"encoding":{"x2":{"field":"x2"},"stroke":{"field":"r","type":"nominal","scale":{"domain":["SA","OA","RA","EA"],"range":["#2f5597","#a9c4a0","#f0a070","#8497b0"]},"legend":null},"strokeDash":{"datum":"高精度センサー","type":"nominal","scale":{"domain":["内部センサー","高精度センサー"],"range":[[1,0],[5,3]]},"legend":{"title":null,"orient":"none","legendX":8,"legendY":152,"padding":0,"rowPadding":0,"symbolSize":600,"symbolType":"stroke","symbolStrokeColor":"#333","symbolStrokeWidth":1.8,"labelFont":"Noto Sans CJK JP","labelFontSize":10.5,"labelColor":"#333","labelOffset":5}}}},
  {"data":{"name":"tr_l"},"transform":[{"filter":{"field":"s","oneOf":["Z=5mm","Z=9mm","Z=195mm","Z=191mm"]}}],"mark":{"type":"line","interpolate":"monotone","color":"#f9cba3","strokeWidth":3},"encoding":{"detail":[{"field":"s"},{"field":"h"}]}},
  {"data":{"name":"tr_l"},"mark":{"type":"line","interpolate":"monotone","strokeWidth":1.2},"encoding":{"color":{"field":"s","type":"nominal","scale":{"domain":["Z=5mm","Z=9mm","Z=50mm","Z=61mm","Z=100mm","Z=87mm","Z=150mm","Z=139mm","Z=195mm","Z=191mm"],"range":["#8b3a1a","#8b3a1a","#70ad47","#70ad47","#5b9bd5","#5b9bd5","#a5a5a5","#a5a5a5","#9a5a2a","#b8432a"]},"legend":null},"detail":{"field":"h"},"strokeDash":{"datum":"内部センサー","type":"nominal","scale":{"domain":["内部センサー","高精度センサー"],"range":[[1,0],[5,3]]},"legend":{"title":null,"orient":"none","legendX":8,"legendY":152,"padding":0,"rowPadding":0,"symbolSize":600,"symbolType":"stroke","symbolStrokeColor":"#333","symbolStrokeWidth":1.8,"labelFont":"Noto Sans CJK JP","labelFontSize":10.5,"labelColor":"#333","labelOffset":5}}}},
  {"data":{"values":[{"x":0.5,"y":5,"y2":65}]},"mark":{"type":"rule","color":"#222","strokeWidth":1.2},"encoding":{"y2":{"field":"y2"}}},
  {"data":{"name":"hd"},"mark":{"type":"rule","color":"#999","strokeWidth":1},"encoding":{"x2":{"field":"x2"}}},
  {"data":{"name":"ch"},"mark":{"type":"point","filled":false,"color":"#999","strokeWidth":1,"size":40,"opacity":1},"encoding":{"shape":{"field":"d","type":"nominal","scale":{"domain":["l","r"],"range":["M1.3,-1L0,0L1.3,1","M-1.3,-1L0,0L-1.3,1"]},"legend":null}}},
  {"data":{"name":"tr_ld"},"mark":{"type":"rule","color":"#888","strokeWidth":0.8},"encoding":{"x2":{"field":"x2"},"y2":{"field":"y2"}}},
  {"data":{"name":"tr_t"},"mark":{"type":"text","align":"left","baseline":"middle","font":"Liberation Serif","fontSize":11.5,"color":"#333"},"encoding":{"text":{"field":"t"}}},
  {"data":{"name":"tr_ar"},"mark":{"type":"rule","color":"#333","strokeWidth":1.2},"encoding":{"y2":{"field":"y2"}}},
  {"data":{"name":"tr_ar"},"mark":{"type":"point","filled":true,"color":"#333","size":30,"opacity":1},"encoding":{"shape":{"field":"d","type":"nominal","scale":{"domain":["u","d"],"range":["triangle-up","triangle-down"]},"legend":null}}},
  {"data":{"name":"tr_bx"},"mark":{"type":"rect","fill":"white","stroke":"#333","strokeWidth":1.2},"encoding":{"x2":{"field":"x2"},"y2":{"field":"y2"}}},
  {"data":{"name":"tr_c"},"mark":{"type":"text","align":"center","baseline":"middle","font":"Noto Sans CJK JP","fontSize":14,"color":"#333"},"encoding":{"text":{"field":"t"}}},
  {"data":{"name":"tr_p"},"mark":{"type":"point","filled":true,"color":"#111","size":28,"opacity":1},"encoding":{"shape":{"datum":"表面上部センサー","type":"nominal","scale":{"domain":["表面上部センサー"],"range":["circle"]},"legend":{"title":null,"orient":"none","legendX":22,"legendY":198,"padding":0,"symbolSize":25,"symbolFillColor":"#222","labelFont":"Noto Sans CJK JP","labelFontSize":10.5,"labelColor":"#333","labelOffset":10.5}}}}
 ]},
{"width":284,"height":218,
 "encoding":{"x":{"field":"x","type":"quantitative","scale":{"domain":[0,1],"nice":false,"zero":false},"axis":{"values":[0,0.1,0.2,0.3,0.4,0.5,0.6,0.7,0.8,0.9,1],"labelExpr":"datum.value == 0 ? '0' : datum.value == 1 ? '1' : format(datum.value, '.1f')","title":"回転角（無次元化）","titlePadding":4}},
  "y":{"field":"y","type":"quantitative","scale":{"domain":[6,22],"nice":false,"zero":false},"axis":{"values":[6,8,10,12,14,16,18,20,22],"title":"絶対湿度[g/kg']","titlePadding":12}}},
 "resolve":{"scale":{"shape":"independent"}},
 "layer":[
  {"data":{"name":"bl_ref"},"mark":{"type":"rule","strokeDash":[5,3],"strokeWidth":1.5},"encoding":{"x2":{"field":"x2"},"stroke":{"field":"r","type":"nominal","scale":{"domain":["SA","OA","RA","EA"],"range":["#2f5597","#a9c4a0","#f0a070","#8497b0"]},"legend":null}}},
  {"data":{"name":"bl_l"},"transform":[{"filter":{"field":"s","oneOf":["Z=5mm","Z=9mm","Z=195mm","Z=191mm"]}}],"mark":{"type":"line","interpolate":"monotone","color":"#f9cba3","strokeWidth":3},"encoding":{"detail":[{"field":"s"},{"field":"h"}]}},
  {"data":{"name":"bl_l"},"mark":{"type":"line","interpolate":"monotone","strokeWidth":1.2},"encoding":{"color":{"field":"s","type":"nominal","scale":{"domain":["Z=5mm","Z=9mm","Z=50mm","Z=61mm","Z=100mm","Z=87mm","Z=150mm","Z=139mm","Z=195mm","Z=191mm"],"range":["#c0602a","#c0602a","#70ad47","#70ad47","#5b9bd5","#5b9bd5","#9fb6cf","#a5a5a5","#d9782e","#9a5a2a"]},"legend":null},"detail":{"field":"h"}}},
  {"data":{"values":[{"x":0.5,"y":6,"y2":22}]},"mark":{"type":"rule","color":"#222","strokeWidth":1.2},"encoding":{"y2":{"field":"y2"}}},
  {"data":{"name":"bl_ld"},"mark":{"type":"rule","color":"#888","strokeWidth":0.8},"encoding":{"x2":{"field":"x2"},"y2":{"field":"y2"}}},
  {"data":{"name":"bl_t"},"mark":{"type":"text","align":"left","baseline":"middle","font":"Liberation Serif","fontSize":11.5,"color":"#333"},"encoding":{"text":{"field":"t"}}},
  {"data":{"name":"bl_ar"},"mark":{"type":"rule","color":"#333","strokeWidth":1.2},"encoding":{"y2":{"field":"y2"}}},
  {"data":{"name":"bl_ar"},"mark":{"type":"point","filled":true,"color":"#333","size":30,"opacity":1},"encoding":{"shape":{"field":"d","type":"nominal","scale":{"domain":["u","d"],"range":["triangle-up","triangle-down"]},"legend":null}}},
  {"data":{"name":"bl_bx"},"mark":{"type":"rect","fill":"white","stroke":"#333","strokeWidth":1.2},"encoding":{"x2":{"field":"x2"},"y2":{"field":"y2"}}},
  {"data":{"name":"bl_c"},"mark":{"type":"text","align":"center","baseline":"middle","font":"Noto Sans CJK JP","fontSize":14,"color":"#333"},"encoding":{"text":{"field":"t"}}},
  {"data":{"name":"bl_p"},"mark":{"type":"point","filled":true,"color":"#111","size":28,"opacity":1}}
 ]},
{"width":284,"height":218,
 "encoding":{"x":{"field":"x","type":"quantitative","scale":{"domain":[0,1],"nice":false,"zero":false},"axis":{"values":[0,0.1,0.2,0.3,0.4,0.5,0.6,0.7,0.8,0.9,1],"labelExpr":"datum.value == 0 ? '0' : datum.value == 1 ? '1' : format(datum.value, '.1f')","title":"回転角（無次元化）","titlePadding":4}},
  "y":{"field":"y","type":"quantitative","scale":{"domain":[6,22],"nice":false,"zero":false},"axis":{"values":[6,8,10,12,14,16,18,20,22],"title":null}}},
 "resolve":{"scale":{"shape":"independent"}},
 "layer":[
  {"data":{"name":"br_ref"},"mark":{"type":"rule","strokeDash":[5,3],"strokeWidth":1.5},"encoding":{"x2":{"field":"x2"},"stroke":{"field":"r","type":"nominal","scale":{"domain":["SA","OA","RA","EA"],"range":["#2f5597","#a9c4a0","#f0a070","#8497b0"]},"legend":null}}},
  {"data":{"name":"br_l"},"transform":[{"filter":{"field":"s","oneOf":["Z=5mm","Z=9mm","Z=195mm","Z=191mm"]}}],"mark":{"type":"line","interpolate":"monotone","color":"#f9cba3","strokeWidth":3},"encoding":{"detail":[{"field":"s"},{"field":"h"}]}},
  {"data":{"name":"br_l"},"mark":{"type":"line","interpolate":"monotone","strokeWidth":1.2},"encoding":{"color":{"field":"s","type":"nominal","scale":{"domain":["Z=5mm","Z=9mm","Z=50mm","Z=61mm","Z=100mm","Z=87mm","Z=150mm","Z=139mm","Z=195mm","Z=191mm"],"range":["#c0602a","#a0522d","#70ad47","#70ad47","#5b9bd5","#5b9bd5","#a5a5a5","#a9a6bd","#9a5a2a","#b07a3a"]},"legend":null},"detail":{"field":"h"}}},
  {"data":{"values":[{"x":0.5,"y":6,"y2":22}]},"mark":{"type":"rule","color":"#222","strokeWidth":1.2},"encoding":{"y2":{"field":"y2"}}},
  {"data":{"name":"br_ld"},"mark":{"type":"rule","color":"#888","strokeWidth":0.8},"encoding":{"x2":{"field":"x2"},"y2":{"field":"y2"}}},
  {"data":{"name":"br_t"},"mark":{"type":"text","align":"left","baseline":"middle","font":"Liberation Serif","fontSize":11.5,"color":"#333"},"encoding":{"text":{"field":"t"}}},
  {"data":{"name":"br_ar"},"mark":{"type":"rule","color":"#333","strokeWidth":1.2},"encoding":{"y2":{"field":"y2"}}},
  {"data":{"name":"br_ar"},"mark":{"type":"point","filled":true,"color":"#333","size":30,"opacity":1},"encoding":{"shape":{"field":"d","type":"nominal","scale":{"domain":["u","d"],"range":["triangle-up","triangle-down"]},"legend":null}}},
  {"data":{"name":"br_bx"},"mark":{"type":"rect","fill":"white","stroke":"#333","strokeWidth":1.2},"encoding":{"x2":{"field":"x2"},"y2":{"field":"y2"}}},
  {"data":{"name":"br_c"},"mark":{"type":"text","align":"center","baseline":"middle","font":"Noto Sans CJK JP","fontSize":14,"color":"#333"},"encoding":{"text":{"field":"t"}}},
  {"data":{"name":"br_p"},"mark":{"type":"point","filled":true,"color":"#111","size":28,"opacity":1}}
 ]}
]
}
